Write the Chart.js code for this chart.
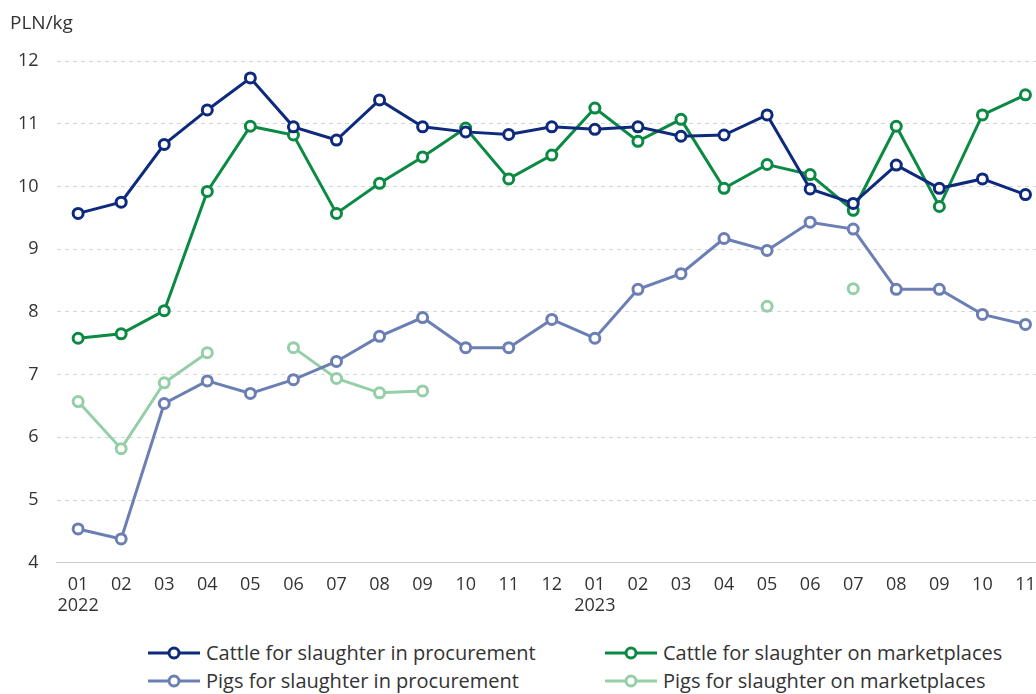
<!DOCTYPE html>
<html>
<head>
<meta charset="utf-8">
<script src="https://cdn.jsdelivr.net/npm/chart.js@4.4.1/dist/chart.umd.min.js"></script>
<style>
  html, body { margin: 0; padding: 0; background: #fff; overflow: hidden; }
  #wrap { position: relative; width: 1055px; height: 694px; }
  #box { position: absolute; left: 0; top: 0; width: 1055px; height: 620px; }
  #unit { position: absolute; left: 10px; top: 9px; font: 19px "Open Sans", sans-serif; color: #333; }
  #legend { position: absolute; left: 148px; top: 639px; display: grid; grid-template-columns: 457px 420px; row-gap: 1px;
            font: 20px "Open Sans", sans-serif; color: #333; }
  .item { display: flex; align-items: center; white-space: nowrap; }
  .item svg { margin-right: 6px; }
</style>
</head>
<body>
<div id="wrap">
  <div id="box"><canvas id="myChart"></canvas></div>
  <div id="unit">PLN/kg</div>
  <div id="legend"></div>
</div>
<script>
const months = [['01','2022'],'02','03','04','05','06','07','08','09','10','11','12',
                ['01','2023'],'02','03','04','05','06','07','08','09','10','11'];

const cattleProc = [9.57, 9.75, 10.67, 11.22, 11.73, 10.95, 10.74, 11.38, 10.95, 10.87, 10.83, 10.95,
                    10.91, 10.95, 10.80, 10.82, 11.14, 9.96, 9.73, 10.34, 9.97, 10.12, 9.87];
const cattleMarket = [7.58, 7.65, 8.02, 9.92, 10.96, 10.82, 9.57, 10.05, 10.47, 10.93, 10.12, 10.50,
                      11.25, 10.72, 11.07, 9.97, 10.35, 10.19, 9.62, 10.96, 9.68, 11.14, 11.46];
const pigsProc = [4.54, 4.38, 6.54, 6.90, 6.70, 6.92, 7.21, 7.61, 7.91, 7.43, 7.43, 7.88,
                  7.58, 8.36, 8.61, 9.17, 8.98, 9.43, 9.32, 8.36, 8.36, 7.96, 7.80];
const pigsMarket = [6.57, 5.82, 6.87, 7.35, null, 7.43, 6.94, 6.71, 6.74, null, null, null,
                    null, null, null, null, 8.09, null, 8.37, null, null, null, null];

const series = [
  { label: 'Cattle for slaughter in procurement', data: cattleProc, color: '#0e2a7d' },
  { label: 'Cattle for slaughter on marketplaces', data: cattleMarket, color: '#0b8a43' },
  { label: 'Pigs for slaughter in procurement', data: pigsProc, color: '#6b7fb5' },
  { label: 'Pigs for slaughter on marketplaces', data: pigsMarket, color: '#94cfa8' }
];

const ctx = document.getElementById('myChart').getContext('2d');
const myChart = new Chart(ctx, {
  type: 'line',
  data: {
    labels: months,
    datasets: series.map(s => ({
      label: s.label,
      data: s.data,
      borderColor: s.color,
      backgroundColor: '#fff',
      pointBackgroundColor: '#fff',
      pointBorderColor: s.color,
      borderWidth: 3,
      pointRadius: 5,
      pointBorderWidth: 3,
      spanGaps: false,
      tension: 0
    }))
  },
  options: {
    responsive: true,
    maintainAspectRatio: false,
    animation: false,
    layout: { padding: { left: 0, right: 2, top: 61, bottom: 0 } },
    plugins: { legend: { display: false }, tooltip: { enabled: false } },
    scales: {
      x: {
        offset: true,
        grid: { display: false },
        border: { display: true, color: '#cfcfcf', width: 1 },
        ticks: { color: '#333', font: { family: 'Open Sans', size: 18 }, maxRotation: 0, autoSkip: false, padding: 3 }
      },
      y: {
        min: 4,
        max: 12,
        ticks: { stepSize: 1, color: '#333', font: { family: 'Open Sans', size: 18 }, padding: 18 },
        grid: { color: '#d6d6d6', drawTicks: false },
        border: { display: false, dash: [4, 4] }
      }
    }
  }
});

const legend = document.getElementById('legend');
series.forEach(s => {
  const item = document.createElement('div');
  item.className = 'item';
  item.innerHTML = '<svg width="52" height="16"><line x1="0" y1="8" x2="52" y2="8" stroke="' + s.color +
    '" stroke-width="3"/><circle cx="26" cy="8" r="5" fill="#fff" stroke="' + s.color + '" stroke-width="3"/></svg>' +
    '<span>' + s.label + '</span>';
  legend.appendChild(item);
});
</script>
</body>
</html>
